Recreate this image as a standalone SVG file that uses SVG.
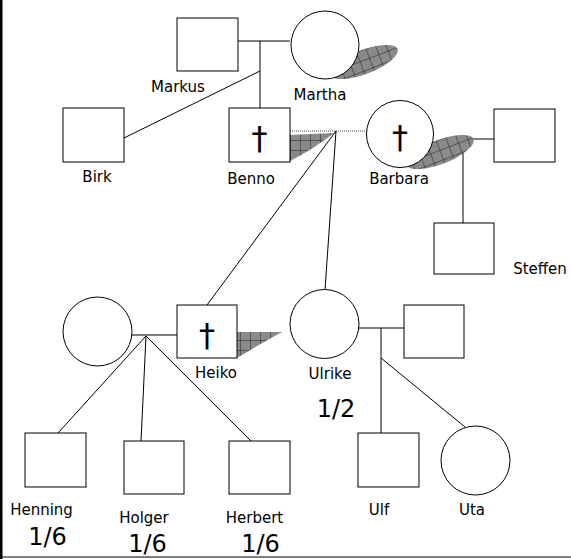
<svg xmlns="http://www.w3.org/2000/svg" width="571" height="559" viewBox="0 0 571 559">
<style>
.box{fill:#fff;stroke:#000;stroke-width:1}
.ln{stroke:#000;stroke-width:1;fill:none}
.lbl{font-family:"DejaVu Sans",Verdana,sans-serif;font-size:15px;fill:#000;text-anchor:middle}
.frac{font-family:"DejaVu Sans",Verdana,sans-serif;font-size:24px;fill:#000;text-anchor:middle}
.dag{font-family:"DejaVu Sans",sans-serif;font-size:32px;fill:#000;text-anchor:middle}
.shd{fill:url(#hatch)}
</style>
<defs>
<pattern id="hatch" patternUnits="userSpaceOnUse" width="10" height="10">
<rect width="10" height="10" fill="#8a8a8a"/>
<path d="M0 0H10M0 0V10" stroke="#222" stroke-width="1"/>
</pattern>
</defs>
<rect x="0" y="0" width="571" height="559" fill="#fff"/>
<rect x="0" y="0" width="2.5" height="559" fill="#000"/>
<line x1="0" y1="557" x2="571" y2="557" stroke="#000" stroke-width="1.2"/>

<g id="connectors">
<line class="ln" x1="238" y1="41" x2="290" y2="41"/>
<line class="ln" x1="260" y1="41" x2="260" y2="108"/>
<line class="ln" x1="260" y1="71" x2="124" y2="138"/>
<line x1="290" y1="131" x2="366" y2="131" stroke="#444" stroke-width="1" stroke-dasharray="1,1"/>
<line class="ln" x1="336" y1="131" x2="207" y2="305"/>
<line class="ln" x1="336" y1="131" x2="325" y2="290"/>
<line class="ln" x1="472" y1="139" x2="494" y2="139"/>
<line class="ln" x1="463" y1="139" x2="463" y2="223"/>
<line class="ln" x1="132" y1="335" x2="177" y2="335"/>
<line class="ln" x1="146" y1="336" x2="58" y2="433"/>
<line class="ln" x1="146" y1="336" x2="141" y2="441"/>
<line class="ln" x1="146" y1="336" x2="251" y2="441"/>
<line class="ln" x1="359" y1="328" x2="404" y2="328"/>
<line class="ln" x1="381" y1="328" x2="381" y2="433"/>
<line class="ln" x1="381" y1="358" x2="465" y2="427"/>
</g>

<g id="markus">
<rect class="box" x="177" y="18" width="61" height="53"/>
<text class="lbl" x="178" y="92">Markus</text>
</g>
<g id="martha">
<ellipse class="shd" cx="364" cy="62" rx="36" ry="12" transform="rotate(-21 364 62)"/>
<circle class="box" cx="325" cy="45" r="34"/>
<text class="lbl" x="320" y="100">Martha</text>
</g>
<g id="birk">
<rect class="box" x="63" y="108" width="61" height="54"/>
<text class="lbl" x="97" y="182">Birk</text>
</g>
<g id="benno">
<path class="shd" d="M290 135 L334 133 Q312 150 290 161 Z"/>
<rect class="box" x="229" y="108" width="61" height="54"/>
<text class="dag" x="259.5" y="149">†</text>
<text class="lbl" x="251" y="184">Benno</text>
</g>
<g id="barbara">
<ellipse class="shd" cx="440" cy="152" rx="36" ry="12" transform="rotate(-21 440 152)"/>
<circle class="box" cx="400" cy="134" r="33.5"/>
<text class="dag" x="400" y="148">†</text>
<text class="lbl" x="399" y="184">Barbara</text>
</g>
<g id="barbara-partner">
<rect class="box" x="494" y="109" width="61" height="53"/>
</g>
<g id="steffen">
<rect class="box" x="434" y="223" width="60" height="51"/>
<text class="lbl" x="540" y="274">Steffen</text>
</g>
<g id="heiko-wife">
<circle class="box" cx="97.5" cy="331.5" r="34.5"/>
</g>
<g id="heiko">
<path class="shd" d="M237 332 L282 332 Q260 344 237 358 Z"/>
<rect class="box" x="177" y="305" width="60" height="53"/>
<text class="dag" x="207" y="346">†</text>
<text class="lbl" x="216" y="378">Heiko</text>
</g>
<g id="ulrike">
<circle class="box" cx="324.5" cy="324" r="34.5"/>
<text class="lbl" x="330" y="379">Ulrike</text>
<text class="frac" x="336" y="417">1/2</text>
</g>
<g id="ulrike-partner">
<rect class="box" x="404" y="305" width="60" height="53"/>
</g>
<g id="henning">
<rect class="box" x="25" y="433" width="61" height="54"/>
<text class="lbl" x="41.5" y="515">Henning</text>
<text class="frac" x="47.5" y="545">1/6</text>
</g>
<g id="holger">
<rect class="box" x="124" y="441" width="60" height="53"/>
<text class="lbl" x="144" y="523">Holger</text>
<text class="frac" x="147.5" y="552">1/6</text>
</g>
<g id="herbert">
<rect class="box" x="229" y="441" width="61" height="53"/>
<text class="lbl" x="254.5" y="523">Herbert</text>
<text class="frac" x="260.5" y="552">1/6</text>
</g>
<g id="ulf">
<rect class="box" x="358" y="433" width="61" height="54"/>
<text class="lbl" x="379" y="515">Ulf</text>
</g>
<g id="uta">
<circle class="box" cx="475.5" cy="460.5" r="34.5"/>
<text class="lbl" x="472" y="515">Uta</text>
</g>
</svg>
